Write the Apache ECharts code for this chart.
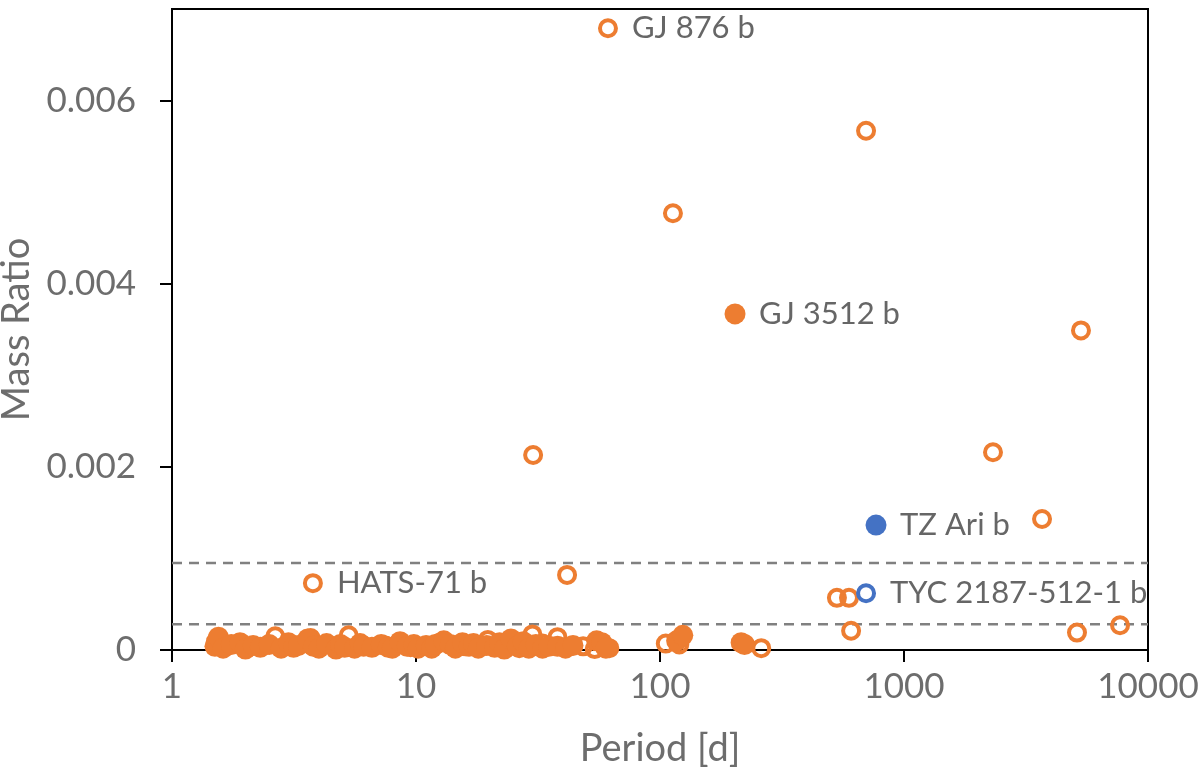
<!DOCTYPE html>
<html>
<head>
<meta charset="utf-8">
<script src="https://cdn.jsdelivr.net/npm/echarts@6/dist/echarts.min.js"></script>
<style>
  html, body { margin: 0; padding: 0; background: #fff; }
  #chart { width: 1200px; height: 784px; }
</style>
</head>
<body>
<div id="chart"></div>
<script>
// orange filled markers [period, mass ratio]
var orangeFilled = [
	[1.5, 0.00004], [1.52, 0.00009], [1.55, 0.00014], [1.62, 0.00002], [1.75, 0.00006],
	[1.9, 0.00008], [2.0, 0.00001], [2.15, 0.00005], [2.3, 0.00003], [2.5, 0.00006],
	[2.8, 0.00002], [3.0, 0.00008], [3.15, 0.00003], [3.3, 0.00005], [3.6, 0.00012],
	[3.8, 0.00004], [4.0, 0.00002], [4.3, 0.00007], [4.7, 0.00001], [4.9, 0.00006],
	[5.1, 0.00003], [5.6, 0.00002], [5.9, 0.00007], [6.1, 0.00004], [6.6, 0.00003],
	[7.2, 0.00006], [7.7, 0.00003], [8.0, 0.00002], [8.6, 0.00009], [9.2, 0.00004],
	[9.8, 0.00006], [10.2, 0.00002], [11, 0.00005], [11.6, 0.00002], [12, 0.00006],
	[13, 0.0001], [13.8, 0.00006], [14.5, 0.00002], [15.5, 0.00008], [16.5, 0.00004],
	[17.2, 0.00007], [18, 0.00002], [19.5, 0.00005], [21, 0.00003], [22, 0.00008],
	[23, 0.00001], [24.5, 0.00012], [26, 0.00004], [27.5, 0.00009], [29, 0.00002],
	[31, 0.00006], [33, 0.00002], [35, 0.00004], [38, 0.00004], [41, 0.00002],
	[44, 0.00005], [55, 0.0001], [57.8, 0.00008], [60, 0.00002],
	[117, 0.0001], [124, 0.00016], [215, 0.00008], [222, 0.00006],
	[203, 0.00367]
];
// orange open markers
var orangeOpen = [
	[1.6, 0.00008], [2.65, 0.00015], [3.7, 0.00013], [5.3, 0.00016], [7.5, 0.00005],
	[9.5, 0.00003], [12.5, 0.00008], [16, 0.00004], [19.7, 0.00011], [26.5, 0.00002],
	[30, 0.00017], [33, 0.00007], [38, 0.00014], [40, 0.00003], [48.4, 0.00004],
	[54, 0.00001], [62, 0.00002], [105.6, 0.00007], [120, 0.00006], [260, 0.00002],
	[61.2, 0.00679], [699, 0.00567], [113, 0.00477], [5313, 0.00349], [30.2, 0.00213],
	[2316, 0.00216], [3679, 0.00143], [41.6, 0.00082], [3.78, 0.00073],
	[531, 0.00057], [595, 0.00057], [607, 0.00021], [5117, 0.00019], [7680, 0.00027]
];
var blueFilled = [[768, 0.001364]];
var blueOpen = [[699, 0.00062]];

// labelled planets
var labelNames = ['GJ 876 b', 'GJ 3512 b', 'HATS-71 b', 'TZ Ari b', 'TYC 2187-512-1 b'];
var labelPoints = [[61.2, 0.00679], [203, 0.00367], [3.78, 0.00073], [768, 0.001364], [699, 0.00062]];

// dashed reference lines
var refLines = [0.00095, 0.00028];

var yTicks = [0, 0.002, 0.004, 0.006];
var xTicks = [1, 10, 100, 1000, 10000];

var ORANGE = '#ED7D31', BLUE = '#4472C4';
var textFont = 'Lato, "Open Sans", sans-serif';

var chart = echarts.init(document.getElementById('chart'));

var labelData = [];
for (var i = 0; i < labelNames.length; i++) {
	labelData.push({ value: labelPoints[i], name: labelNames[i] });
}

var series = [];
// dashed horizontal lines across the whole period range
refLines.forEach(function (v) {
	series.push({
		type: 'line',
		data: [[xTicks[0], v], [xTicks[xTicks.length - 1], v]],
		symbol: 'none',
		silent: true,
		lineStyle: { color: '#808080', type: [10, 7], width: 2.5 },
		z: 1
	});
});

series.push(
	{
		name: 'open',
		type: 'scatter',
		data: orangeOpen,
		symbol: 'circle',
		symbolSize: 16,
		itemStyle: { color: 'rgba(255,255,255,0)', borderColor: ORANGE, borderWidth: 4, opacity: 1 },
		z: 2
	},
	{
		name: 'filled',
		type: 'scatter',
		data: orangeFilled,
		symbol: 'circle',
		symbolSize: 21,
		itemStyle: { color: ORANGE, opacity: 1 },
		z: 3
	},
	{
		name: 'blue filled',
		type: 'scatter',
		data: blueFilled,
		symbol: 'circle',
		symbolSize: 21,
		itemStyle: { color: BLUE, opacity: 1 },
		z: 4
	},
	{
		name: 'blue open',
		type: 'scatter',
		data: blueOpen,
		symbol: 'circle',
		symbolSize: 16,
		itemStyle: { color: 'rgba(255,255,255,0)', borderColor: BLUE, borderWidth: 4, opacity: 1 },
		z: 4
	},
	{
		name: 'labels',
		type: 'scatter',
		data: labelData,
		symbolSize: 0,
		silent: true,
		label: {
			show: true,
			position: 'right',
			distance: 24,
			formatter: '{b}',
			fontSize: 31,
			color: '#404040',
			fontFamily: textFont
		},
		z: 5
	}
);

var option = {
	animation: false,
	grid: {
		left: 172, right: 52, top: 9, bottom: 134,
		containLabel: false,
		outerBoundsMode: 'none',
		show: true, borderColor: '#000', borderWidth: 2,
		backgroundColor: 'transparent'
	},
	xAxis: {
		type: 'log',
		logBase: 10,
		min: xTicks[0],
		max: xTicks[xTicks.length - 1],
		name: 'Period [d]',
		nameLocation: 'middle',
		nameGap: 80,
		nameTextStyle: { fontSize: 38, color: '#6d6d6d', fontFamily: textFont },
		axisLine: { onZero: false, lineStyle: { color: '#000', width: 2 } },
		axisTick: { show: true, inside: false, length: 12, lineStyle: { color: '#000', width: 2 } },
		minorTick: { show: false },
		axisLabel: {
			fontSize: 35, color: '#6d6d6d', margin: 19, fontFamily: textFont,
			formatter: function (v) { return String(Math.round(v)); }
		},
		splitLine: { show: false }
	},
	yAxis: {
		type: 'value',
		min: 0,
		max: 0.007,
		name: 'Mass Ratio',
		nameLocation: 'middle',
		nameGap: 133,
		nameTextStyle: { fontSize: 38, color: '#6d6d6d', fontFamily: textFont },
		axisLine: { show: true, lineStyle: { color: '#000', width: 2 } },
		axisTick: { show: true, length: 12, customValues: yTicks, lineStyle: { color: '#000', width: 2 } },
		axisLabel: {
			fontSize: 35, color: '#6d6d6d', margin: 36, fontFamily: textFont,
			customValues: yTicks,
			formatter: function (v) { return v === 0 ? '0' : v.toFixed(3); }
		},
		splitLine: { show: false }
	},
	series: series
};

chart.setOption(option);
</script>
</body>
</html>
